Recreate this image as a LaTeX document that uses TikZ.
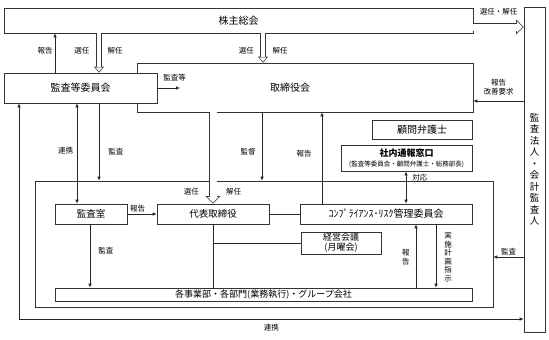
\documentclass[tikz,border=0pt]{standalone}
\usepackage{fontspec}
\newfontfamily\jpfont{Noto Sans CJK JP}
\usetikzlibrary{arrows.meta,positioning}

\begin{document}
\begin{tikzpicture}[x=1pt, y=-1pt,
    box/.style={draw=black!80, fill=white, line width=0.6pt, inner sep=0pt,
        font=\jpfont\fontsize{10}{12}\selectfont},
    lbl/.style={font=\jpfont\fontsize{7.5}{8.5}\selectfont, inner sep=0pt, align=center},
    link/.style={draw=black!85, line width=0.7pt},
    arr/.style={link, -{Latex[length=4pt,width=3.5pt]}},
    both/.style={link, {Latex[length=4pt,width=3.5pt]}-{Latex[length=4pt,width=3.5pt]}},
    % hollow block arrows: black outline, white inside
    hollow/.style={draw=black!80, line width=5.4pt,
        -{Triangle[length=6pt, width=10pt, line width=0pt]},
        postaction={draw=white, line width=4pt, shorten >=1.1pt,
            -{Triangle[length=4.2pt, width=7pt, line width=0pt]}}},
    hollow wide/.style={draw=black!80, line width=8.4pt,
        -{Triangle[length=7.5pt, width=15pt, line width=0pt]},
        postaction={draw=white, line width=7pt, shorten >=1pt,
            -{Triangle[length=5.8pt, width=11.6pt, line width=0pt]}}}
]
\useasboundingbox (0,0) rectangle (549,340);

% top level
\node[box, minimum width=469pt, minimum height=25pt] (agm) at (238.5,20.5) {株主総会};
\node[box, minimum width=336pt, minimum height=49pt,
    label={[font=\jpfont\fontsize{10}{12}\selectfont, xshift=-15pt]center:取締役会}] (board) at (305,87.5) {};
\node[box, minimum width=153pt, minimum height=30pt] (auditcom) at (80.5,88) {監査等委員会};
\node[box, minimum width=21pt, minimum height=325pt, align=center,
    font=\jpfont\fontsize{9.5}{11.5}\selectfont] (auditor) at (534.5,169.5)
    {監\\査\\法\\人\\・\\会\\計\\監\\査\\人};
\node[box, minimum width=100pt, minimum height=19pt] (lawyer) at (422,129.5) {顧問弁護士};
\node[box, line width=0.9pt, minimum width=131pt, minimum height=26pt, align=center,
    font=\jpfont\fontsize{9}{10}\selectfont] (hotline) at (406.5,158)
    {{\bfseries 社内通報窓口}\\{\fontsize{6.5}{7}\selectfont (監査等委員会・顧問弁護士・総務部長)}};
\coordinate (auditto) at (180,88);

% business execution
\node[box, minimum width=458pt, minimum height=126pt] (exec) at (264,244) {};
\node[box, minimum width=72pt, minimum height=20pt, font=\jpfont\fontsize{9.5}{11}\selectfont] (office) at (91,214) {監査室};
\node[box, minimum width=112pt, minimum height=20pt, font=\jpfont\fontsize{9.5}{11}\selectfont] (ceo) at (213,214) {代表取締役};
\node[box, minimum width=172pt, minimum height=20pt] (comp) at (386,214) {ｺﾝﾌﾟﾗｲｱﾝｽ･ﾘｽｸ管理委員会};
\node[box, minimum width=80pt, minimum height=22pt, align=center,
    font=\jpfont\fontsize{9}{10}\selectfont] (mgmt) at (341,243) {経営会議\\(月曜会)};
\node[box, minimum width=417pt, minimum height=13pt, font=\jpfont\fontsize{9}{10}\selectfont] (div) at (263.5,294.5)
    {各事業部・各部門(業務執行)・グループ会社};

% shareholders
\draw[arr] (55,0 |- auditcom.north) -- (55,0 |- agm.south)
    node[lbl, pos=0.55, left=2pt] (rep1) {報告};
\draw[hollow] (99,0 |- agm.south) -- (99,0 |- auditcom.north)
    node[lbl, pos=0.45, left=7pt] (sel1) {選任}
    node[lbl, pos=0.45, right=6pt] (dis1) {解任};
\draw[hollow] (263,0 |- agm.south) -- (263,0 |- board.north)
    node[lbl, pos=0.6, left=6.5pt] (sel2) {選任}
    node[lbl, pos=0.6, right=7pt] (dis2) {解任};
\draw[hollow wide] (agm.east |- 0,27) -- (auditor.west |- 0,27)
    node[lbl, midway, above=8pt] (sel3) {選任・解任};

% audit committee
\draw[arr] (auditcom.east) -- (auditto) node[lbl, pos=0.76, above=7pt] (aud1) {監査等};
\draw[both] (19,0 |- auditcom.south) |- (auditor.west |- 0,319)
    node[lbl, pos=0.75, below=5pt] (coop1) {連携};
\draw[both] (77,0 |- auditcom.south) -- (77,0 |- office.north)
    node[lbl, pos=0.475, left=3.5pt] (coop2) {連携};
\draw[arr] (99,0 |- auditcom.south) -- (99,0 |- exec.north)
    node[lbl, pos=0.62, right=9pt] (aud2) {監査};

% board
\draw[arr] (auditor.west |- 0,101) -- (board.east |- 0,101)
    node[lbl, midway, above=6pt] (rep2) {報告\\改善要求};
\draw[arr] (262,0 |- board.south) -- (262,0 |- exec.north)
    node[lbl, pos=0.58, left=6pt] (sup1) {監督};
\draw[arr] (322,0 |- comp.north) -- (322,0 |- board.south)
    node[lbl, pos=0.55, left=10pt] (rep3) {報告};
\draw[hollow wide] (213,0 |- board.south) -- (ceo.north)
    node[lbl, pos=0.87, left=10pt] (sel4) {選任}
    node[lbl, pos=0.87, right=9pt] (dis4) {解任};

% inside execution
\draw[both] (406,0 |- hotline.south) -- (406,0 |- comp.north)
    node[lbl, pos=0.18, right=6pt] (resp) {対応};
\draw[arr] (office.east) -- (ceo.west) node[lbl, pos=0.35, above=1pt] (rep4) {報告};
\draw[link] (ceo.east) -- (comp.west);
\draw[arr] (90,0 |- office.south) -- (90,0 |- div.north)
    node[lbl, pos=0.42, right=8pt] (aud3) {監査};
\draw[link] (ceo.south) -- (ceo.south |- div.north);
\draw[link] (ceo.south |- mgmt.west) -- (mgmt.west);
\draw[arr] (416,0 |- div.north) -- (416,0 |- comp.south)
    node[lbl, pos=0.48, left=6pt] (rep5) {報\\告};
\draw[arr] (436,0 |- comp.south) -- (436,0 |- div.north)
    node[lbl, pos=0.52, right=8pt] (plan) {実\\施\\計\\画\\指\\示};
\draw[arr] (auditor.west |- 0,257) -- (exec.east |- 0,257)
    node[lbl, midway, above=1.5pt] (aud4) {監査};
\end{tikzpicture}
\end{document}
